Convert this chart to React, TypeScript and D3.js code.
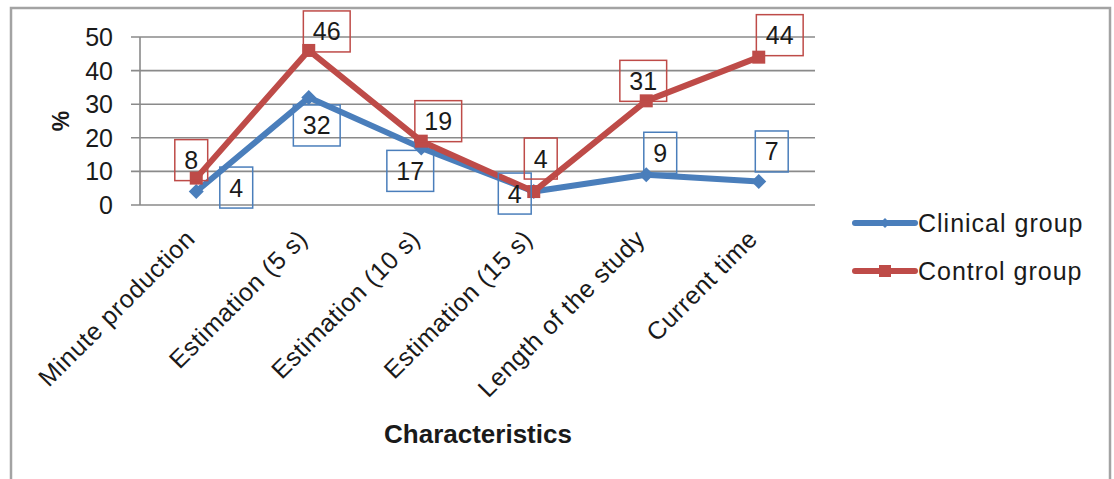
import React from "react";
import * as d3 from "d3";

const categories = [
  "Minute production",
  "Estimation (5 s)",
  "Estimation (10 s)",
  "Estimation (15 s)",
  "Length of the study",
  "Current time",
];
const clinicalValues = [4, 32, 17, 4, 9, 7];
const controlValues = [8, 46, 19, 4, 31, 44];
const yTicks = [0, 10, 20, 30, 40, 50];
const seriesNames = ["Clinical group", "Control group"];

// label placement offsets (box center relative to point), px
const clinicalLabelOffsets: [number, number][] = [
  [40, -4], [8, 28], [-11, 23], [-19, 2], [14, -22], [13, -30],
];
const controlLabelOffsets: [number, number][] = [
  [-5, -18], [18, -19], [17, -20], [7, -33], [-3, -20], [21, -22],
];

const W = 1114;
const H = 479;
const FONT = "'Liberation Sans', Arial, sans-serif";
const BLUE = "#4A7EBB";
const RED = "#BE4B48";
const GRID = "#8a8a8a";

const x = d3.scaleBand<string>().domain(categories).range([140, 815]);
const y = d3.scaleLinear().domain([0, 50]).range([205, 37]);
const cx = (c: string) => (x(c) as number) + x.bandwidth() / 2;

const lineGen = d3
  .line<[string, number]>()
  .x((d) => cx(d[0]))
  .y((d) => y(d[1]));

function diamond(px: number, py: number, r: number) {
  return `M${px},${py - r}L${px + r},${py}L${px},${py + r}L${px - r},${py}Z`;
}

function Label({ px, py, value, color, off }: { px: number; py: number; value: number; color: string; off: [number, number] }) {
  const txt = String(value);
  const w = txt.length * 13.9 + 19;
  const h = 41;
  const bx = px + off[0];
  const by = py + off[1];
  return (
    <g>
      <rect x={bx - w / 2} y={by - h / 2} width={w} height={h} fill="none" stroke={color} strokeWidth={1.5} />
      <text x={bx} y={by} textAnchor="middle" dominantBaseline="central" fontSize={25} fill="#1a1a1a" fontFamily={FONT}>
        {txt}
      </text>
    </g>
  );
}

export default function App() {
  const clin = categories.map((c, i) => [c, clinicalValues[i]] as [string, number]);
  const ctrl = categories.map((c, i) => [c, controlValues[i]] as [string, number]);
  return (
    <svg width={W} height={H} style={{ position: "absolute", left: 0, top: 0, background: "#fff" }} fontFamily={FONT}>
      <rect x={11} y={8} width={1099} height={520} fill="#fff" stroke="#a3a3a3" strokeWidth={2.5} />
      {/* gridlines */}
      {yTicks.map((t) => (
        <g key={t}>
          <line x1={131} x2={815} y1={y(t)} y2={y(t)} stroke={GRID} strokeWidth={1.6} />
          <text x={113} y={y(t)} textAnchor="end" dominantBaseline="central" fontSize={25} fill="#1a1a1a">
            {t}
          </text>
        </g>
      ))}
      <line x1={140} x2={140} y1={y(50)} y2={y(0)} stroke={GRID} strokeWidth={1.6} />
      {/* y axis title */}
      <text transform={`translate(61,${(y(0) + y(50)) / 2}) rotate(-90)`} textAnchor="middle" dominantBaseline="central" fontSize={23} fontWeight="bold" fill="#1a1a1a">
        %
      </text>
      {/* category labels */}
      {categories.map((c) => (
        <text key={c} transform={`translate(${cx(c) - 6},${y(0) + 29}) rotate(-45)`} textAnchor="end" dominantBaseline="central" fontSize={25} letterSpacing={0.6} fill="#1a1a1a">
          {c}
        </text>
      ))}
      <text x={478} y={443} textAnchor="middle" fontSize={26} fontWeight="bold" fill="#1a1a1a">
        Characteristics
      </text>
      {/* series */}
      <path d={lineGen(clin) as string} fill="none" stroke={BLUE} strokeWidth={6} strokeLinejoin="round" />
      {clin.map((d) => (
        <path key={d[0]} d={diamond(cx(d[0]), y(d[1]), 7.5)} fill={BLUE} />
      ))}
      <path d={lineGen(ctrl) as string} fill="none" stroke={RED} strokeWidth={6} strokeLinejoin="round" />
      {ctrl.map((d) => (
        <rect key={d[0]} x={cx(d[0]) - 6.5} y={y(d[1]) - 6.5} width={13} height={13} fill={RED} />
      ))}
      {/* labels */}
      {clin.map((d, i) => (
        <Label key={"cl" + i} px={cx(d[0])} py={y(d[1])} value={d[1]} color={BLUE} off={clinicalLabelOffsets[i]} />
      ))}
      {ctrl.map((d, i) => (
        <Label key={"ct" + i} px={cx(d[0])} py={y(d[1])} value={d[1]} color={RED} off={controlLabelOffsets[i]} />
      ))}
      {/* legend */}
      {seriesNames.map((n, i) => {
        const ly = 223 + i * 48;
        const color = i === 0 ? BLUE : RED;
        return (
          <g key={n}>
            <line x1={855} x2={915} y1={ly} y2={ly} stroke={color} strokeWidth={6} strokeLinecap="round" />
            {i === 0 ? <path d={diamond(885, ly, 5)} fill={color} /> : <rect x={879} y={ly - 6} width={12} height={12} fill={color} />}
            <text x={918} y={ly} dominantBaseline="central" fontSize={25} letterSpacing={1} fill="#1a1a1a">
              {n}
            </text>
          </g>
        );
      })}
    </svg>
  );
}
